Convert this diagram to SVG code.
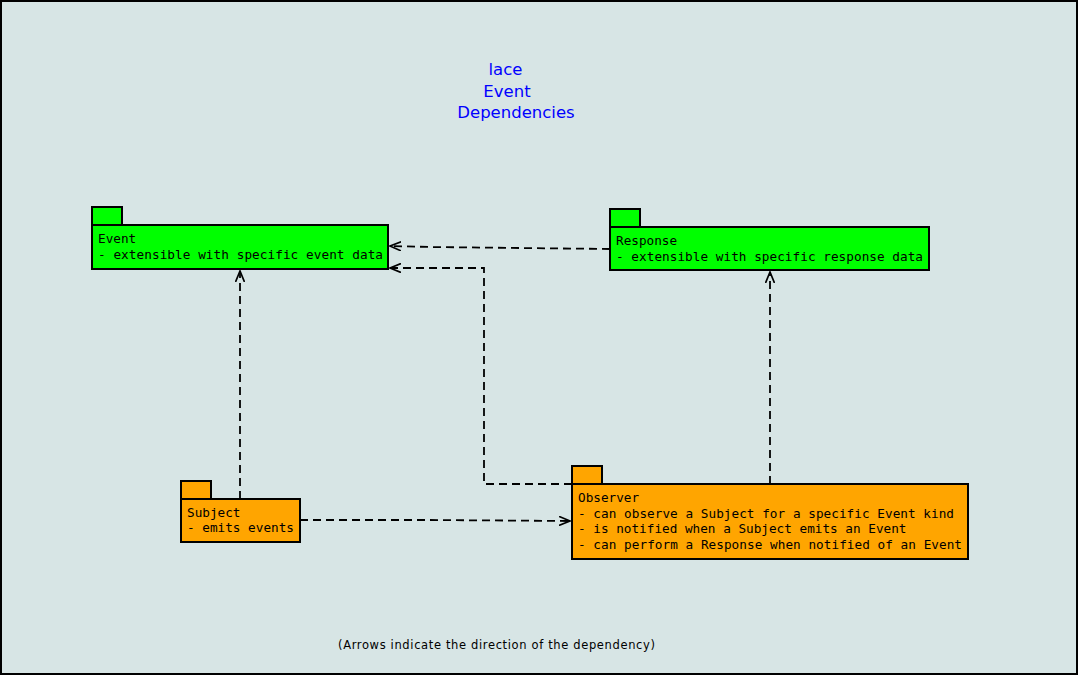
<svg xmlns="http://www.w3.org/2000/svg" width="1079" height="676" viewBox="0 0 1079 676">
<defs>
<marker id="arr" viewBox="0 0 12 10" refX="11" refY="5" markerWidth="12" markerHeight="10" markerUnits="userSpaceOnUse" orient="auto">
<path d="M0,0.5 L11,5 L0,9.5" fill="none" stroke="#000" stroke-width="1.7"/>
</marker>
</defs>
<style>
.node{stroke:#000;stroke-width:2}
.g{fill:#00ff00}
.o{fill:#ffa500}
.t{font-family:"DejaVu Sans Mono","Liberation Mono",monospace;font-size:12.7px;fill:#000}
.c{fill:none;stroke:#000;stroke-width:1.8;stroke-dasharray:8,5;marker-end:url(#arr)}
.title{font-family:"DejaVu Sans","Noto Sans",sans-serif;font-size:16.5px;fill:#0000ff;text-anchor:middle}
</style>
<rect x="1" y="1" width="1076" height="673" fill="#d7e5e5" stroke="#000" stroke-width="2"/>
<g id="title">
<text class="title" x="505.5" y="75">lace</text>
<text class="title" x="507" y="97">Event</text>
<text class="title" x="516" y="118">Dependencies</text>
</g>
<g id="connectors">
<path class="c" d="M610,249 L430,247 L390,246"/>
<path class="c" d="M572,484 L484,484 L484,268 L390,268"/>
<path class="c" d="M240,499 L240,271"/>
<path class="c" d="M300,520 L430,520 L570,521"/>
<path class="c" d="M770,484 L770,272"/>
</g>
<g id="event">
<rect class="node g" x="92" y="207" width="30" height="18"/>
<rect class="node g" x="92" y="225" width="296" height="44"/>
<text class="t" x="98" y="243">Event</text>
<text class="t" x="98" y="259" textLength="285">- extensible with specific event data</text>
</g>
<g id="response">
<rect class="node g" x="610" y="209" width="30" height="18"/>
<rect class="node g" x="610" y="227" width="319" height="43"/>
<text class="t" x="616" y="245">Response</text>
<text class="t" x="616" y="261" textLength="307">- extensible with specific response data</text>
</g>
<g id="subject">
<rect class="node o" x="181" y="481" width="30" height="18"/>
<rect class="node o" x="181" y="499" width="119" height="43"/>
<text class="t" x="187" y="517">Subject</text>
<text class="t" x="187" y="532">- emits events</text>
</g>
<g id="observer">
<rect class="node o" x="572" y="466" width="30" height="18"/>
<rect class="node o" x="572" y="484" width="396" height="75"/>
<text class="t" x="578" y="502">Observer</text>
<text class="t" x="578" y="518" textLength="376">- can observe a Subject for a specific Event kind</text>
<text class="t" x="578" y="533">- is notified when a Subject emits an Event</text>
<text class="t" x="578" y="549" textLength="384">- can perform a Response when notified of an Event</text>
</g>
<g id="footer">
<text x="338" y="649" font-family="DejaVu Sans,Noto Sans,sans-serif" font-size="11.5" fill="#000" textLength="317">(Arrows indicate the direction of the dependency)</text>
</g>
</svg>
